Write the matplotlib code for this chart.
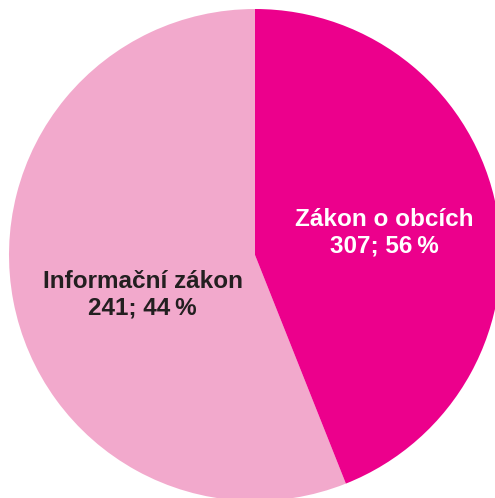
import matplotlib.pyplot as plt

# wedge values in drawing order (counter-clockwise from the top)
values = [307, 241]
wedge_colors = ["#F2A9CC", "#EC008C"]

# label texts as printed on the reference chart
labels = ["Informační zákon", "Zákon o obcích"]
counts = [241, 307]
percents = [44, 56]
text_colors = ["#231F20", "#FFFFFF"]
label_pos = [(-0.457, -0.162), (0.524, 0.09)]

plt.rcParams["font.family"] = ["Liberation Sans", "DejaVu Sans"]

fig = plt.figure(figsize=(4.95, 4.98), dpi=100)
ax = fig.add_axes([0, 0, 1, 1])

ax.pie(values, colors=wedge_colors, startangle=90, counterclock=True,
       radius=1.0, center=(0, 0), wedgeprops=dict(linewidth=0))

for lab, n, p, c, (x, y) in zip(labels, counts, percents, text_colors, label_pos):
    ax.text(x, y, f"{lab}\n{n}; {p}\u2009%", ha="center", va="center",
            fontsize=17.5, fontweight="bold", color=c, linespacing=1.22)

ax.set_aspect("auto")
ax.set_xlim(-1.0366, 0.9756)
ax.set_ylim(-0.9878, 1.0366)
ax.axis("off")

fig.savefig("out.png", dpi=100)
